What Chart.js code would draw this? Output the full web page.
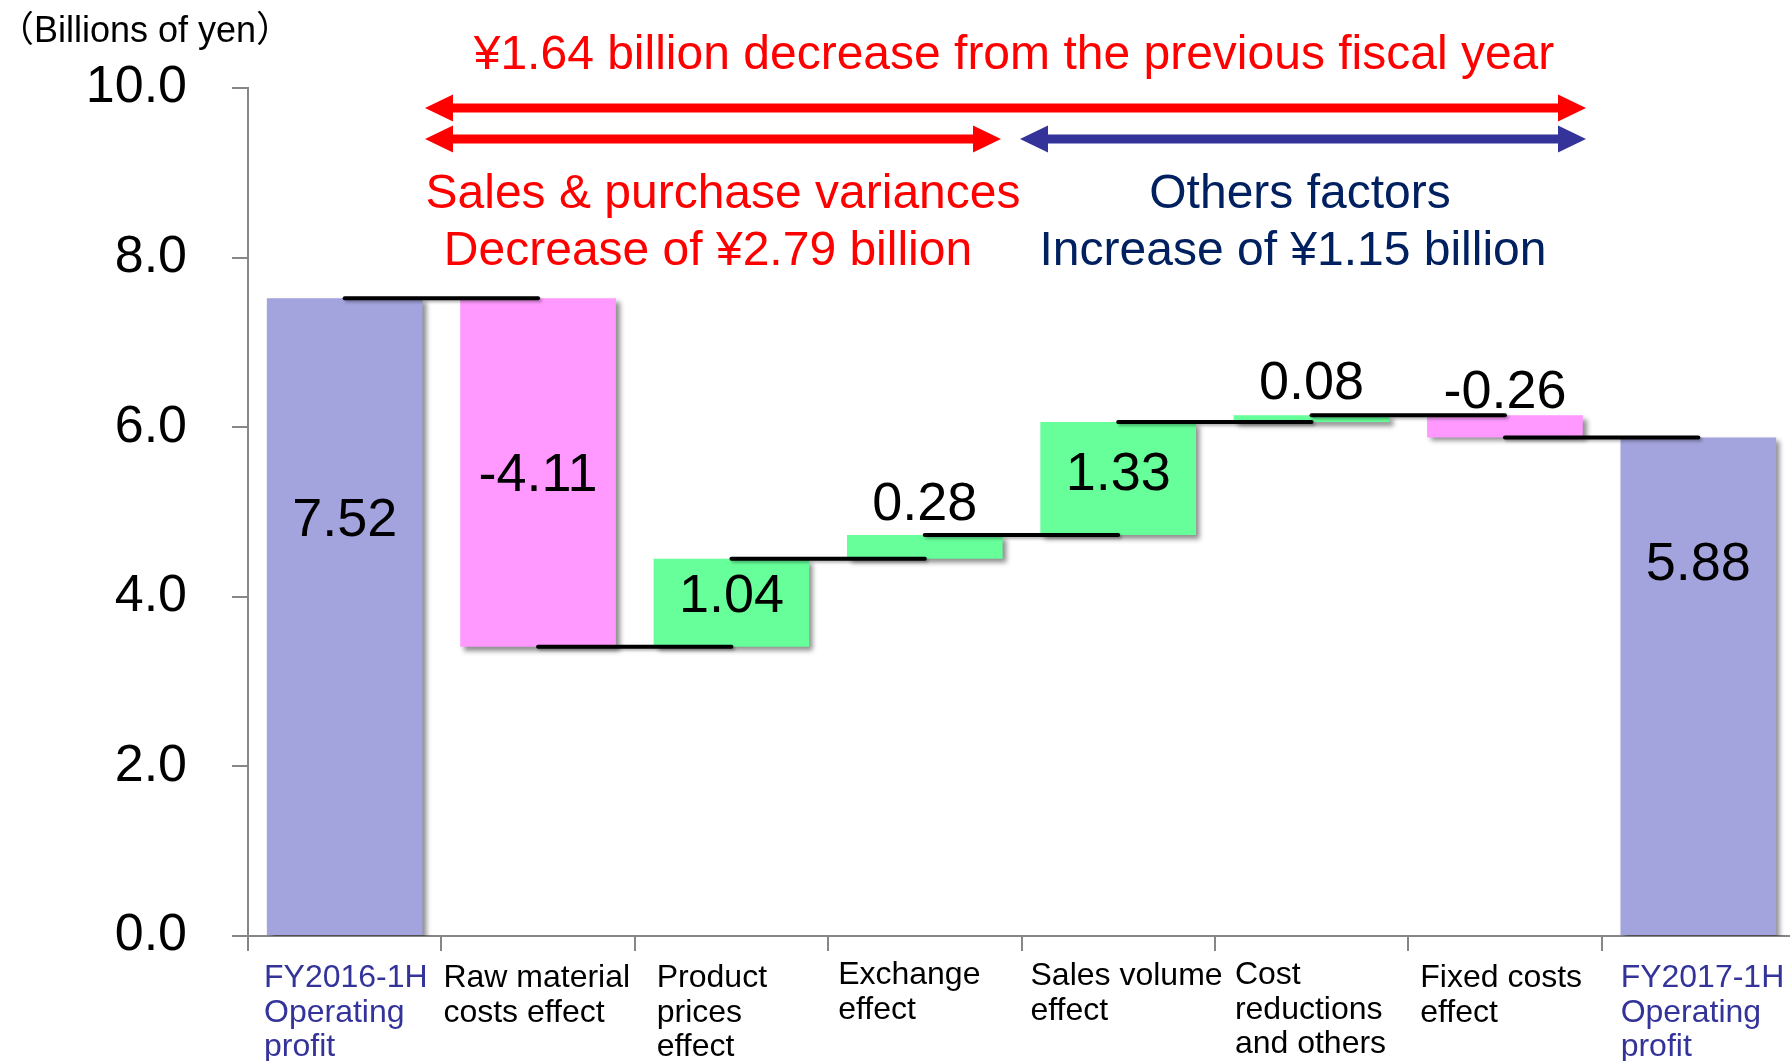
<!DOCTYPE html>
<html>
<head>
<meta charset="utf-8">
<script src="https://cdn.jsdelivr.net/npm/chart.js@4"></script>
<style>
  html, body { margin: 0; padding: 0; background: #fff; overflow: hidden; }
  #chart { display: block; }
</style>
</head>
<body>
<canvas id="chart" width="1800" height="1061"></canvas>
<script>
// waterfall data (billions of yen)
var categories = [
  ["FY2016-1H", "Operating", "profit"],
  ["Raw material", "costs effect"],
  ["Product", "prices", "effect"],
  ["Exchange", "effect"],
  ["Sales volume", "effect"],
  ["Cost", "reductions", "and others"],
  ["Fixed costs", "effect"],
  ["FY2017-1H", "Operating", "profit"]
];
var amounts = [7.52, -4.11, 1.04, 0.28, 1.33, 0.08, -0.26, 5.88];
var isTotal = [true, false, false, false, false, false, false, true];
var yTicks = [0, 2, 4, 6, 8, 10];

var unitLabel = "（Billions of yen）";
var titleText = "¥1.64 billion decrease from the previous fiscal year";
var leftNote = ["Sales & purchase variances", "Decrease of ¥2.79 billion"];
var rightNote = ["Others factors", "Increase of ¥1.15 billion"];

var FONT = '"Liberation Sans", Arial, "Noto Sans CJK JP", sans-serif';
var BLUE = "#A3A3DE", PINK = "#FF99FF", GREEN = "#66FF99";

// build floating ranges from the running total
var ranges = [];
var barColors = [];
var levels = [];
var running = 0;
for (var i = 0; i < amounts.length; i++) {
  if (isTotal[i]) {
    ranges.push([0, amounts[i]]);
    running = amounts[i];
    barColors.push(BLUE);
  } else {
    var start = running;
    running = Math.round((running + amounts[i]) * 100) / 100;
    ranges.push([start, running]);
    barColors.push(amounts[i] < 0 ? PINK : GREEN);
  }
  levels.push(running);
}

// where each value label sits: 'mid' of bar or above 'top', plus a shift in px
var labelPlace = [
  {at: "mid", dy: -96}, {at: "mid", dy: 4}, {at: "mid", dy: -6}, {at: "top", dy: -30},
  {at: "mid", dy: -3}, {at: "top", dy: -31}, {at: "top", dy: -22}, {at: "mid", dy: -121}
];
var xLabelShift = [16, 2, 22, 10, 9, 20, 12, 19];
var xLabelDy = [0, 0, 0, -3, -2, -3, 0, 0];

function drawArrow(ctx, x1, x2, y, color, leftHead) {
  var shaft = 9, headW = 27, headL = 28;
  var lx = leftHead ? x1 + headL : x1;
  ctx.fillStyle = color;
  ctx.beginPath();
  if (leftHead) {
    ctx.moveTo(x1, y);
    ctx.lineTo(lx, y - headW / 2);
    ctx.lineTo(lx, y - shaft / 2);
  } else {
    ctx.moveTo(x1, y - shaft / 2);
  }
  ctx.lineTo(x2 - headL, y - shaft / 2);
  ctx.lineTo(x2 - headL, y - headW / 2);
  ctx.lineTo(x2, y);
  ctx.lineTo(x2 - headL, y + headW / 2);
  ctx.lineTo(x2 - headL, y + shaft / 2);
  if (leftHead) {
    ctx.lineTo(lx, y + shaft / 2);
    ctx.lineTo(lx, y + headW / 2);
  } else {
    ctx.lineTo(x1, y + shaft / 2);
  }
  ctx.closePath();
  ctx.fill();
}

var waterfallExtras = {
  id: "waterfallExtras",
  beforeDatasetsDraw: function (chart) {
    var ctx = chart.ctx;
    ctx.save();
    ctx.shadowColor = "rgba(0,0,0,0.45)";
    ctx.shadowOffsetX = 4;
    ctx.shadowOffsetY = 4;
    ctx.shadowBlur = 5;
  },
  afterDatasetsDraw: function (chart) {
    var ctx = chart.ctx;
    ctx.restore();
    var x = chart.scales.x, y = chart.scales.y;
    var meta = chart.getDatasetMeta(0);

    // connector lines
    ctx.save();
    ctx.strokeStyle = "#000";
    ctx.lineWidth = 4;
    ctx.lineCap = "round";
    ctx.shadowColor = "rgba(0,0,0,0.3)";
    ctx.shadowOffsetX = 2;
    ctx.shadowOffsetY = 2;
    ctx.shadowBlur = 3;
    for (var i = 0; i < levels.length - 1; i++) {
      var py = y.getPixelForValue(levels[i]);
      ctx.beginPath();
      ctx.moveTo(x.getPixelForValue(i), py);
      ctx.lineTo(x.getPixelForValue(i + 1), py);
      ctx.stroke();
    }
    ctx.restore();

    // value labels
    ctx.save();
    ctx.fillStyle = "#000";
    ctx.font = "54px " + FONT;
    ctx.textAlign = "center";
    ctx.textBaseline = "middle";
    for (var j = 0; j < meta.data.length; j++) {
      var bar = meta.data[j];
      var top = Math.min(bar.y, bar.base), bottom = Math.max(bar.y, bar.base);
      var ly = labelPlace[j].at === "top" ? top : (top + bottom) / 2;
      ctx.fillText(amounts[j].toFixed(2), bar.x, ly + labelPlace[j].dy);
    }
    ctx.restore();
  },
  afterDraw: function (chart) {
    var ctx = chart.ctx;
    var x = chart.scales.x;
    var area = chart.chartArea;
    var half = (x.getPixelForValue(1) - x.getPixelForValue(0)) / 2;

    ctx.save();
    // category labels
    ctx.font = "32px " + FONT;
    ctx.textAlign = "left";
    ctx.textBaseline = "alphabetic";
    for (var i = 0; i < categories.length; i++) {
      ctx.fillStyle = isTotal[i] ? "#333399" : "#000";
      var lx = x.getPixelForValue(i) - half + xLabelShift[i];
      for (var k = 0; k < categories[i].length; k++) {
        ctx.fillText(categories[i][k], lx, area.bottom + 51 + xLabelDy[i] + k * 34.5);
      }
    }

    // unit
    ctx.fillStyle = "#000";
    ctx.font = "36px " + FONT;
    ctx.fillText(unitLabel, -2, 42);

    // headline texts
    ctx.textAlign = "center";
    ctx.fillStyle = "#FF0000";
    ctx.font = "48px " + FONT;
    ctx.fillText(titleText, 1014, 69);
    ctx.fillText(leftNote[0], 723, 208);
    ctx.fillText(leftNote[1], 708, 265);
    ctx.fillStyle = "#002060";
    ctx.fillText(rightNote[0], 1300, 208);
    ctx.fillText(rightNote[1], 1293, 265);

    // arrows
    drawArrow(ctx, 425, 1586, 108, "#FF0000", true);
    drawArrow(ctx, 425, 1001, 139, "#FF0000", true);
    drawArrow(ctx, 1020, 1586, 139, "#333399", true);
    ctx.restore();
  }
};

var chart = new Chart(document.getElementById("chart"), {
  type: "bar",
  data: {
    labels: categories,
    datasets: [{
      data: ranges,
      backgroundColor: barColors,
      borderWidth: 0,
      barPercentage: 0.805,
      categoryPercentage: 1.0
    }]
  },
  options: {
    responsive: false,
    animation: false,
    layout: { padding: { top: 88, right: 5, left: 0, bottom: 0 } },
    plugins: {
      legend: { display: false },
      tooltip: { enabled: false }
    },
    scales: {
      x: {
        offset: true,
        grid: { offset: true, drawOnChartArea: false, drawTicks: true, tickLength: 15, color: "#878787", lineWidth: 2 },
        border: { display: true, color: "#878787", width: 2 },
        ticks: { display: false },
        afterFit: function (scale) { scale.height = 125; }
      },
      y: {
        min: 0,
        max: 10,
        afterBuildTicks: function (scale) {
          scale.ticks = yTicks.map(function (v) { return { value: v }; });
        },
        grid: { drawOnChartArea: false, drawTicks: true, tickLength: 16, color: "#878787", lineWidth: 2 },
        border: { display: true, color: "#878787", width: 2 },
        ticks: {
          color: "#000",
          padding: 45,
          font: { family: FONT, size: 52 },
          callback: function (value) { return Number(value).toFixed(1); }
        },
        afterFit: function (scale) { scale.width = 248; }
      }
    }
  },
  plugins: [waterfallExtras]
});
</script>
</body>
</html>
